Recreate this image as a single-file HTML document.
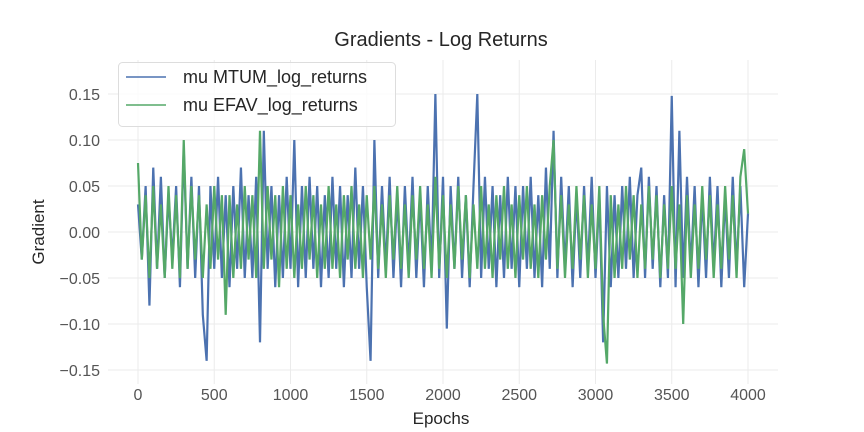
<!DOCTYPE html>
<html><head><meta charset="utf-8">
<style>
body{margin:0;background:#fff;}
svg{display:block;font-family:"Liberation Sans",sans-serif;}
</style></head>
<body>
<svg id="chart" width="864" height="432">
<text x="441" y="46" text-anchor="middle" font-size="20" fill="#262626">Gradients - Log Returns</text>
<g id="grid"></g>
<g id="series"></g>
<g id="ticks"></g>
<text x="441" y="424" text-anchor="middle" font-size="17" fill="#262626">Epochs</text>
<text transform="translate(44,232) rotate(-90)" text-anchor="middle" font-size="17" fill="#262626">Gradient</text>
<g>
<rect x="118.5" y="62.5" width="277" height="64" rx="4" fill="#fff" fill-opacity="0.8" stroke="#ddd"/>
<line x1="126" y1="77" x2="166" y2="77" stroke="#4c72b0" stroke-width="1.5"/>
<text x="183" y="83" font-size="18" fill="#262626">mu MTUM_log_returns</text>
<line x1="126" y1="105" x2="166" y2="105" stroke="#55a868" stroke-width="1.5"/>
<text x="183" y="111" font-size="18" fill="#262626">mu EFAV_log_returns</text>
</g>
</svg>
<script>
const epochStep = 25;
const xTicks = [0,500,1000,1500,2000,2500,3000,3500,4000];
const yTicks = [-0.15,-0.10,-0.05,0.00,0.05,0.10,0.15];
const yTickLabels = ["\u22120.15","\u22120.10","\u22120.05","0.00","0.05","0.10","0.15"];
const mtum = [
0.03,-0.03,0.05,-0.08,0.07,-0.04,0.06,-0.05,0.04,-0.03,
0.05,-0.06,0.09,-0.04,0.06,-0.05,0.05,-0.09,-0.14,0.05,
-0.04,0.06,-0.05,0.04,-0.06,0.05,-0.04,0.07,-0.05,0.04,
-0.05,0.06,-0.12,0.11,-0.04,0.05,-0.06,0.04,-0.05,0.06,
-0.04,0.10,-0.06,0.05,-0.05,0.06,-0.04,0.05,-0.06,0.04,
-0.05,0.06,-0.04,0.05,-0.06,0.04,-0.05,0.07,-0.04,0.05,
-0.06,-0.14,0.10,-0.05,0.05,-0.04,0.06,-0.05,0.04,-0.06,
0.05,-0.04,0.06,-0.05,0.04,-0.06,0.05,-0.04,0.15,-0.05,
0.06,-0.105,0.05,-0.04,0.06,-0.05,0.04,-0.06,0.05,0.15,
-0.05,0.06,-0.04,0.05,-0.06,0.04,-0.05,0.06,-0.04,0.05,
-0.06,0.05,-0.04,0.06,-0.05,0.04,-0.06,0.07,-0.04,0.11,
-0.05,0.06,-0.04,0.05,-0.06,0.04,-0.05,0.05,-0.04,0.06,
-0.05,0.04,-0.12,0.05,-0.06,0.04,-0.05,0.05,-0.04,0.06,
-0.05,0.04,0.07,-0.05,0.06,-0.04,0.05,-0.06,0.04,-0.05,
0.148,-0.06,0.11,-0.05,0.06,-0.04,0.05,-0.06,0.04,-0.05,
0.06,-0.04,0.05,-0.06,0.04,-0.05,0.06,-0.04,0.05,-0.06,
0.02];
const efav = [
0.075,-0.03,0.04,-0.05,0.05,-0.04,0.03,-0.05,0.05,-0.04,
0.04,-0.05,0.10,-0.04,0.05,-0.03,0.04,-0.05,0.03,-0.04,
0.05,-0.03,0.04,-0.09,0.04,-0.05,0.03,-0.04,0.05,-0.03,
0.04,-0.05,0.11,-0.04,0.05,-0.03,0.04,-0.06,0.05,-0.04,
0.04,-0.05,0.03,-0.04,0.05,-0.03,0.04,-0.05,0.03,-0.04,
0.05,-0.04,0.03,-0.05,0.04,-0.03,0.05,-0.04,0.03,-0.05,
0.04,-0.03,0.05,-0.04,0.03,-0.05,0.04,-0.03,0.05,-0.04,
0.03,-0.05,0.04,-0.03,0.05,-0.04,0.03,-0.05,0.06,-0.04,
0.04,-0.05,0.03,-0.04,0.05,-0.03,0.04,-0.05,0.03,-0.04,
0.05,-0.04,0.03,-0.05,0.04,-0.03,0.05,-0.04,0.03,-0.05,
0.04,-0.03,0.05,-0.04,0.03,-0.05,0.04,-0.03,0.05,0.10,
-0.04,0.04,-0.05,0.03,-0.04,0.05,-0.03,0.04,-0.05,0.03,
-0.04,0.05,-0.09,-0.143,0.04,-0.05,0.03,-0.04,0.05,-0.03,
0.04,-0.05,0.03,-0.04,0.05,-0.03,0.04,-0.05,0.03,-0.04,
0.05,-0.04,0.03,-0.10,0.04,-0.05,0.03,-0.04,0.05,-0.03,
0.04,-0.05,0.03,-0.04,0.05,-0.03,0.04,-0.05,0.06,0.09,
0.02];
const NS = "http://www.w3.org/2000/svg";
const xScale = e => 138 + e * (748 - 138) / 4000;
const yScale = v => 232 - v * (276 / 0.30);
const grid = document.getElementById('grid');
const ticks = document.getElementById('ticks');
xTicks.forEach(t => {
  const l = document.createElementNS(NS, 'line');
  l.setAttribute('x1', xScale(t)); l.setAttribute('x2', xScale(t));
  l.setAttribute('y1', 60); l.setAttribute('y2', 384);
  l.setAttribute('stroke', '#ebebeb');
  
  
  grid.appendChild(l);
  const tx = document.createElementNS(NS, 'text');
  tx.setAttribute('x', xScale(t)); tx.setAttribute('y', 400);
  tx.setAttribute('text-anchor', 'middle'); tx.setAttribute('font-size', '16'); tx.setAttribute('fill', '#555');
  tx.textContent = t;
  
  
  ticks.appendChild(tx);
});
yTicks.forEach((t, i) => {
  const l = document.createElementNS(NS, 'line');
  l.setAttribute('x1', 108); l.setAttribute('x2', 778);
  l.setAttribute('y1', yScale(t)); l.setAttribute('y2', yScale(t));
  l.setAttribute('stroke', '#ebebeb');
  
  
  grid.appendChild(l);
  const tx = document.createElementNS(NS, 'text');
  tx.setAttribute('x', 100); tx.setAttribute('y', yScale(t) + 6);
  tx.setAttribute('text-anchor', 'end'); tx.setAttribute('font-size', '16'); tx.setAttribute('fill', '#555');
  tx.textContent = yTickLabels[i];
  
  
  ticks.appendChild(tx);
});
function drawSeries(vals, color, name) {
  const p = document.createElementNS(NS, 'polyline');
  p.setAttribute('points', vals.map((v, i) => xScale(i * epochStep).toFixed(2) + ',' + yScale(v).toFixed(2)).join(' '));
  p.setAttribute('fill', 'none'); p.setAttribute('stroke', color); p.setAttribute('stroke-width', '2.2');
  p.setAttribute('stroke-linejoin', 'miter');
  
  
  document.getElementById('series').appendChild(p);
}
drawSeries(mtum, '#4c72b0', 'mtum-line');
drawSeries(efav, '#55a868', 'efav-line');
</script>
</body></html>
